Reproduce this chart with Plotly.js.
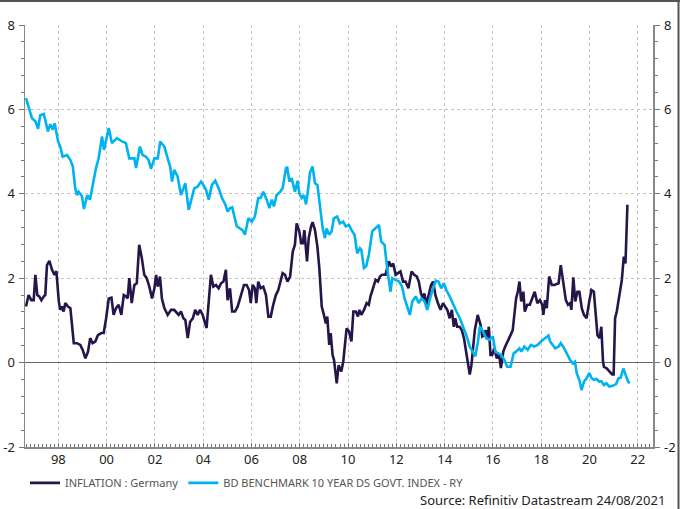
<!DOCTYPE html>
<html>
<head>
<meta charset="utf-8">
<script src="https://cdn.plot.ly/plotly-3.0.1.min.js"></script>
<style>html,body{margin:0;padding:0;background:#fff;}#chart{width:680px;height:509px;}</style>
</head>
<body>
<div id="chart"></div>
<script>
// Tick labels (years)
const tickYears = [1998,2000,2002,2004,2006,2008,2010,2012,2014,2016,2018,2020,2022];
const tickLabels = ["98","00","02","04","06","08","10","12","14","16","18","20","22"];
// Y tick labels
const yTickVals = [-2,0,2,4,6,8];
const yTickText = ["-2","0","2","4","6","8"];

// INFLATION : Germany (decimal year, %)
const inflYears = [1996.66,1996.77,1996.88,1996.98,1997.05,1997.13,1997.21,1997.30,1997.40,1997.46,1997.53,1997.63,1997.74,1997.84,1997.92,
1998.02,1998.08,1998.15,1998.22,1998.29,1998.40,1998.50,1998.64,1998.77,1998.91,1999.01,1999.12,1999.23,1999.32,1999.42,1999.53,1999.64,1999.78,1999.88,1999.98,
2000.09,2000.20,2000.29,2000.39,2000.50,2000.61,2000.71,2000.80,2000.87,2000.94,2001.04,2001.15,2001.25,2001.35,2001.46,2001.56,2001.66,2001.77,2001.88,2001.98,
2002.05,2002.12,2002.21,2002.29,2002.39,2002.53,2002.67,2002.80,2002.90,2002.98,2003.08,2003.18,2003.26,2003.36,2003.46,2003.57,2003.67,2003.77,2003.87,2003.98,
2004.06,2004.14,2004.23,2004.32,2004.42,2004.53,2004.64,2004.74,2004.84,2004.94,2005.01,2005.11,2005.20,2005.32,2005.43,2005.52,2005.69,2005.80,2005.90,2005.97,
2006.05,2006.14,2006.20,2006.28,2006.38,2006.49,2006.60,2006.70,2006.80,2006.90,2007.01,2007.11,2007.21,2007.29,2007.39,2007.49,2007.60,2007.71,2007.80,2007.87,2007.98,
2008.06,2008.13,2008.19,2008.30,2008.37,2008.47,2008.53,2008.63,2008.73,2008.81,2008.87,2008.91,2009.00,2009.08,2009.14,2009.22,2009.28,2009.36,2009.42,2009.53,2009.61,2009.72,2009.80,2009.86,2009.94,
2010.04,2010.14,2010.22,2010.32,2010.41,2010.47,2010.55,2010.66,2010.77,2010.86,2010.93,2011.04,2011.14,2011.24,2011.32,2011.41,2011.55,2011.69,2011.78,2011.87,2011.97,
2012.07,2012.17,2012.28,2012.38,2012.50,2012.58,2012.63,2012.74,2012.85,2012.93,2013.02,2013.10,2013.16,2013.24,2013.34,2013.44,2013.52,2013.62,2013.72,2013.83,2013.93,
2014.02,2014.11,2014.21,2014.30,2014.38,2014.44,2014.52,2014.62,2014.71,2014.80,2014.90,2014.97,2015.04,2015.11,2015.18,2015.25,2015.37,2015.49,2015.56,2015.63,2015.70,2015.77,2015.83,2015.90,2015.97,
2016.06,2016.16,2016.25,2016.33,2016.43,2016.51,2016.62,2016.73,2016.82,2016.96,2017.03,2017.10,2017.17,2017.26,2017.32,2017.42,2017.53,2017.64,2017.73,2017.84,2017.95,
2018.04,2018.09,2018.16,2018.23,2018.33,2018.44,2018.55,2018.72,2018.81,2018.89,2019.02,2019.11,2019.20,2019.25,2019.33,2019.41,2019.50,2019.58,2019.68,2019.77,2019.88,2019.99,
2020.08,2020.18,2020.26,2020.33,2020.42,2020.49,2020.56,2020.60,2020.70,2020.84,2020.94,2021.00,2021.06,2021.13,2021.25,2021.34,2021.42,2021.49,2021.57];
const inflValues = [1.33,1.60,1.48,1.48,2.08,1.60,1.57,1.48,1.57,1.60,2.31,2.41,2.20,2.08,2.17,
1.45,1.25,1.33,1.21,1.41,1.33,1.29,0.46,0.46,0.42,0.30,0.10,0.26,0.58,0.46,0.50,0.65,0.70,0.70,1.05,
1.52,1.54,1.13,1.29,1.37,1.13,1.60,1.57,1.52,2.00,1.41,1.84,1.88,2.79,2.47,2.08,2.00,1.80,1.52,1.76,
2.08,1.80,2.04,1.52,1.29,1.13,1.25,1.25,1.17,1.13,1.21,1.05,1.01,0.58,0.97,1.05,1.25,1.13,1.25,1.13,
0.97,0.82,1.45,2.08,1.80,1.84,1.76,1.88,1.92,2.20,1.48,1.76,1.21,1.21,1.33,1.52,1.84,1.84,1.72,1.41,
1.84,1.76,1.41,1.92,1.76,1.80,1.60,1.09,1.09,1.37,1.60,1.72,1.92,2.12,2.08,1.92,2.04,2.63,2.79,3.30,3.11,
2.83,2.83,3.14,2.40,2.95,3.23,3.33,3.14,2.75,2.24,1.76,1.33,1.13,0.93,1.09,0.42,0.70,0.18,0.06,-0.49,-0.06,-0.21,0.02,0.42,0.81,
0.74,0.50,1.21,1.21,1.09,1.25,1.13,1.25,1.41,1.37,1.57,1.76,1.96,1.92,2.04,2.08,2.08,2.40,2.28,2.35,2.08,
2.12,2.16,1.92,1.92,1.76,1.96,2.16,2.08,2.04,1.92,1.64,1.52,1.64,1.37,1.60,1.84,1.92,1.60,1.41,1.25,1.41,
1.33,1.25,1.05,1.25,0.85,1.05,0.85,0.85,0.77,0.58,0.22,-0.10,-0.28,-0.06,0.38,0.77,1.13,0.89,0.62,0.65,0.77,0.54,0.85,0.18,0.18,
0.34,0.10,0.22,-0.13,0.26,0.38,0.50,0.65,0.77,1.52,1.68,1.92,1.45,1.68,1.21,1.37,1.37,1.57,1.68,1.41,1.48,
1.37,1.13,1.48,1.29,2.04,1.84,1.84,1.88,2.31,2.00,1.48,1.37,1.41,1.25,2.02,1.45,1.68,1.68,1.29,1.13,1.05,1.45,
1.72,1.68,1.13,0.65,0.58,0.85,0.02,-0.10,-0.13,-0.21,-0.28,-0.28,1.05,1.21,1.68,1.96,2.51,2.35,3.74];

// BD BENCHMARK 10 YEAR DS GOVT. INDEX - RY (decimal year, %)
const bondYears = [1996.66,1996.77,1996.91,1997.05,1997.16,1997.25,1997.40,1997.57,1997.67,1997.77,1997.85,1997.99,
1998.08,1998.18,1998.36,1998.50,1998.60,1998.70,1998.77,1998.84,1998.98,1999.06,1999.20,1999.31,1999.42,1999.56,1999.67,1999.81,1999.89,1999.98,
2000.09,2000.22,2000.43,2000.64,2000.80,2000.94,2001.15,2001.22,2001.38,2001.49,2001.63,2001.74,2001.84,2001.98,
2002.12,2002.22,2002.39,2002.53,2002.63,2002.71,2002.80,2002.94,2003.08,2003.26,2003.40,2003.49,2003.63,2003.77,2003.91,
2004.05,2004.12,2004.23,2004.36,2004.50,2004.64,2004.78,2004.92,2005.01,2005.11,2005.20,2005.30,2005.39,2005.52,2005.63,2005.73,2005.87,
2006.01,2006.14,2006.28,2006.38,2006.49,2006.63,2006.74,2006.84,2006.93,2007.04,2007.18,2007.29,2007.43,2007.48,2007.57,2007.66,2007.80,2007.91,2007.98,
2008.08,2008.17,2008.26,2008.35,2008.42,2008.53,2008.63,2008.73,2008.84,2008.95,2009.04,2009.11,2009.22,2009.32,2009.41,2009.55,2009.66,2009.80,2009.90,
2010.04,2010.17,2010.27,2010.38,2010.49,2010.55,2010.66,2010.75,2010.86,2011.00,2011.14,2011.28,2011.37,2011.51,2011.62,2011.69,2011.76,2011.83,2011.97,
2012.11,2012.24,2012.34,2012.45,2012.56,2012.66,2012.80,2012.93,2013.04,2013.17,2013.28,2013.42,2013.53,2013.63,2013.74,2013.86,2013.97,
2014.07,2014.21,2014.35,2014.49,2014.63,2014.76,2014.90,2015.04,2015.18,2015.27,2015.38,2015.46,2015.59,2015.72,2015.86,
2016.00,2016.10,2016.20,2016.34,2016.48,2016.59,2016.73,2016.86,2016.96,2017.10,2017.18,2017.30,2017.44,2017.57,2017.71,2017.85,2017.99,
2018.16,2018.30,2018.37,2018.58,2018.72,2018.81,2018.93,2019.06,2019.20,2019.31,2019.40,2019.47,2019.58,2019.67,2019.77,2019.88,2019.99,
2020.09,2020.18,2020.29,2020.40,2020.49,2020.59,2020.70,2020.82,2020.96,2021.10,2021.20,2021.29,2021.40,2021.51,2021.60,2021.67];
const bondValues = [6.27,6.03,5.79,5.72,5.54,5.86,5.89,5.48,5.65,5.52,5.67,5.24,
5.12,4.88,4.92,4.80,4.65,4.13,3.97,4.05,3.94,3.64,3.97,3.86,4.21,4.61,4.84,5.36,5.04,5.28,
5.56,5.20,5.32,5.24,5.20,4.84,4.84,4.61,5.12,4.92,4.88,4.80,4.59,4.84,
4.84,5.24,5.12,4.84,4.65,4.29,4.57,4.41,3.97,4.25,3.62,3.82,4.13,4.17,4.29,
4.17,4.09,3.86,4.21,4.31,4.13,3.90,3.74,3.58,3.66,3.68,3.45,3.23,3.18,3.14,3.03,3.42,
3.34,3.46,3.90,3.90,4.05,3.86,3.66,3.86,3.70,3.97,4.04,4.13,4.61,4.62,4.29,4.37,4.05,4.31,4.01,
3.90,3.97,3.75,4.13,4.49,4.65,4.25,4.21,3.74,3.18,2.95,3.18,3.03,3.11,3.42,3.46,3.30,3.34,3.23,
3.26,3.11,3.03,2.59,2.71,2.67,2.24,2.28,2.55,3.11,3.18,3.26,2.87,2.79,2.24,1.88,1.68,2.00,1.96,
1.92,1.80,1.52,1.33,1.13,1.45,1.57,1.41,1.52,1.45,1.25,1.57,1.76,1.94,1.92,1.76,1.88,
1.72,1.57,1.37,1.21,1.05,0.85,0.65,0.38,0.22,0.15,0.50,0.85,0.74,0.58,0.54,
0.62,0.26,0.22,0.18,0.06,-0.10,-0.10,0.22,0.26,0.34,0.26,0.38,0.30,0.42,0.38,0.42,0.50,
0.58,0.64,0.50,0.34,0.38,0.46,0.36,0.22,0.06,-0.02,0.02,-0.25,-0.41,-0.65,-0.45,-0.37,-0.25,
-0.37,-0.41,-0.39,-0.45,-0.44,-0.53,-0.49,-0.57,-0.55,-0.51,-0.37,-0.36,-0.14,-0.29,-0.45,-0.49];

const FONT = "Noto Sans, Open Sans, DejaVu Sans, sans-serif";

const traces = [
  {x: inflYears, y: inflValues, type: 'scatter', mode: 'lines', name: 'INFLATION : Germany',
   line: {color: '#26154a', width: 2.6}, yaxis: 'y'},
  {x: bondYears, y: bondValues, type: 'scatter', mode: 'lines', name: 'BD BENCHMARK 10 YEAR DS GOVT. INDEX - RY',
   line: {color: '#00b2f0', width: 2.6}, yaxis: 'y2'}
];

const yCommon = {
  range: [-2, 8], tickvals: yTickVals, ticktext: yTickText,
  ticks: 'outside', ticklen: 5, tickcolor: '#777', tickwidth: 1,
  showline: true, linecolor: '#888', linewidth: 1.5, fixedrange: true, automargin: false,
  tickfont: {family: FONT, size: 13, color: '#222'},
  minor: {dtick: 0.4, tick0: 0, ticks: 'outside', ticklen: 3, tickcolor: '#777', showgrid: false}
};

const layout = {
  width: 680, height: 509,
  margin: {l: 25, r: 27, t: 25, b: 62, pad: 0},
  paper_bgcolor: '#ffffff', plot_bgcolor: '#ffffff',
  font: {family: FONT, color: '#222'},
  showlegend: true,
  xaxis: {
    range: [1996.62, 2022.63], tickvals: tickYears, ticktext: tickLabels,
    showgrid: true, gridcolor: '#c4c4c4', griddash: 'dot', gridwidth: 1,
    showline: true, linecolor: '#888', linewidth: 1.5,
    ticks: 'inside', ticklen: 4, tickcolor: '#777',
    minor: {dtick: 1/6, tick0: 1998, ticks: 'inside', ticklen: 3, tickcolor: '#777', showgrid: false},
    zeroline: false, automargin: false, fixedrange: true,
    tickfont: {family: FONT, size: 13, color: '#222'}
  },
  yaxis: Object.assign({}, yCommon, {
    side: 'left', showgrid: true, gridcolor: '#c4c4c4', griddash: 'dot', gridwidth: 1,
    zeroline: true, zerolinecolor: '#666', zerolinewidth: 1, ticklabelstandoff: 1
  }),
  yaxis2: Object.assign({}, yCommon, {
    side: 'right', overlaying: 'y', showgrid: false, zeroline: false, ticklabelstandoff: 2
  }),
  legend: {
    orientation: 'h', x: 0.0, xanchor: 'left', y: -0.085, yanchor: 'middle',
    traceorder: 'normal',
    font: {family: FONT, size: 11, color: '#555'}, bgcolor: 'rgba(0,0,0,0)', borderwidth: 0
  },
  annotations: [{
    text: 'Source: Refinitiv Datastream 24/08/2021', xref: 'paper', yref: 'paper',
    x: 1.0223, y: -0.1256, xanchor: 'right', yanchor: 'middle', showarrow: false,
    font: {family: FONT, size: 13, color: '#222'}
  }],
  shapes: [
    {type: 'line', xref: 'paper', yref: 'paper', x0: -0.045, x1: 1.045, y0: 1.0569, y1: 1.0569,
     line: {color: '#555', width: 2}},
    {type: 'line', xref: 'paper', yref: 'paper', x0: 1.0406, x1: 1.0406, y0: 1.06, y1: -0.15,
     line: {color: '#555', width: 2}}
  ]
};

Plotly.newPlot('chart', traces, layout, {displayModeBar: false, staticPlot: true});
</script>
</body>
</html>
